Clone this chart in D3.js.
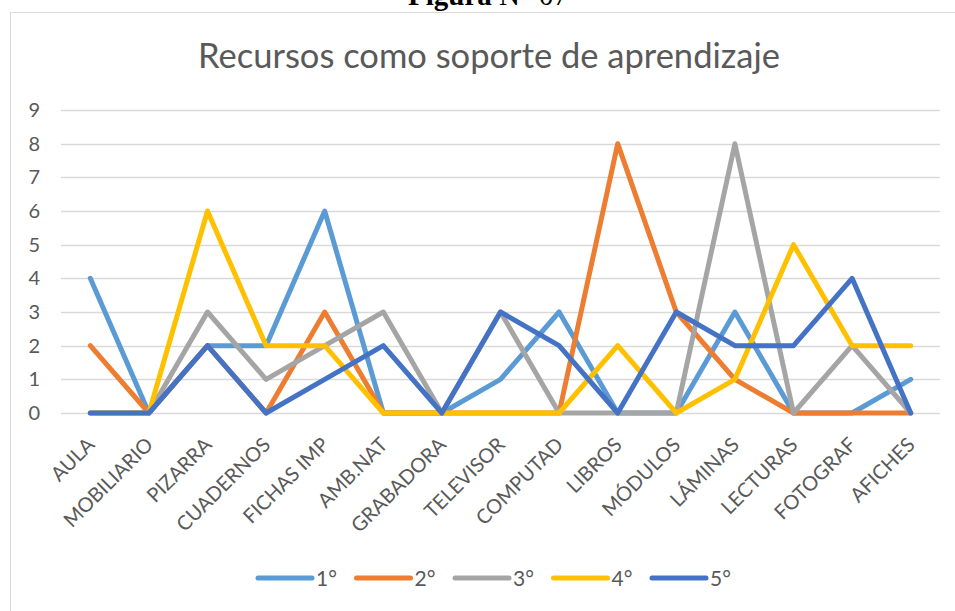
<!DOCTYPE html>
<html>
<head>
<meta charset="utf-8">
<script src="https://cdn.jsdelivr.net/npm/d3@7/dist/d3.min.js"></script>
<style>
  html, body { margin: 0; padding: 0; background: #fff; }
  svg { display: block; }
</style>
</head>
<body>
<script>
// categorias del eje x
const categorias = ["AULA", "MOBILIARIO", "PIZARRA", "CUADERNOS", "FICHAS IMP", "AMB.NAT",
  "GRABADORA", "TELEVISOR", "COMPUTAD", "LIBROS", "MÓDULOS", "LÁMINAS", "LECTURAS",
  "FOTOGRAF", "AFICHES"];

// valores por grado
const grado1 = [4, 0, 2, 2, 6, 0, 0, 1, 3, 0, 0, 3, 0, 0, 1];
const grado2 = [2, 0, 2, 0, 3, 0, 0, 0, 0, 8, 3, 1, 0, 0, 0];
const grado3 = [0, 0, 3, 1, 2, 3, 0, 3, 0, 0, 0, 8, 0, 2, 0];
const grado4 = [0, 0, 6, 2, 2, 0, 0, 0, 0, 2, 0, 1, 5, 2, 2];
const grado5 = [0, 0, 2, 0, 1, 2, 0, 3, 2, 0, 3, 2, 2, 4, 0];

const nombresSeries = ["1°", "2°", "3°", "4°", "5°"];
const colores = ["#5B9BD5", "#ED7D31", "#A5A5A5", "#FFC000", "#4472C4"];
const ticksY = [0, 1, 2, 3, 4, 5, 6, 7, 8, 9];

const series = [grado1, grado2, grado3, grado4, grado5].map((v, i) => ({
  nombre: nombresSeries[i], color: colores[i], valores: v
}));

const ancho = 955, alto = 611;
const svg = d3.select("body").append("svg")
  .attr("width", ancho).attr("height", alto)
  .attr("xmlns", "http://www.w3.org/2000/svg");

const fuente = "Lato, 'Open Sans', sans-serif";
const gris = "#595959";

// texto de la figura, cortado arriba como en la pagina original
svg.append("text")
  .attr("x", 488).attr("y", 5)
  .attr("text-anchor", "middle")
  .attr("font-family", "'Liberation Serif', 'Times New Roman', serif")
  .attr("font-size", 29)
  .attr("fill", "#000")
  .html('<tspan font-weight="bold">Figura</tspan> N° 07');

// marco del grafico
svg.append("rect")
  .attr("x", 10.5).attr("y", 12.5)
  .attr("width", 1000).attr("height", 700)
  .attr("fill", "none").attr("stroke", "#d9d9d9").attr("stroke-width", 1);

// titulo
svg.append("text")
  .attr("x", 489).attr("y", 68)
  .attr("text-anchor", "middle")
  .attr("font-family", fuente)
  .attr("font-size", 34.5)
  .attr("fill", gris)
  .text("Recursos como soporte de aprendizaje");

const x = d3.scalePoint().domain(categorias).range([61, 940]).padding(0.5);
const y = d3.scaleLinear().domain([0, 9]).range([413, 110]);

// lineas de la grilla
svg.append("g").selectAll("line")
  .data(ticksY)
  .join("line")
  .attr("x1", 61).attr("x2", 940)
  .attr("y1", d => Math.round(y(d)) + 0.5).attr("y2", d => Math.round(y(d)) + 0.5)
  .attr("stroke", "#d9d9d9").attr("stroke-width", 1.3);

// eje y
const ejeY = svg.append("g")
  .attr("transform", "translate(40,0)")
  .call(d3.axisLeft(y).tickValues(ticksY).tickSize(0).tickPadding(0));
ejeY.select(".domain").remove();
ejeY.selectAll("text")
  .attr("x", 0)
  .attr("text-anchor", "end")
  .attr("font-family", fuente)
  .attr("font-size", 20)
  .attr("fill", gris);

// eje x con etiquetas inclinadas
const ejeX = svg.append("g")
  .attr("transform", "translate(0,413)")
  .call(d3.axisBottom(x).tickSize(0).tickPadding(0));
ejeX.select(".domain").remove();
ejeX.selectAll("text")
  .attr("y", 0).attr("dy", 0)
  .attr("text-anchor", "end")
  .attr("transform", "translate(5,33) rotate(-45)")
  .attr("font-family", fuente)
  .attr("font-size", 20)
  .attr("fill", gris);

// series
const linea = d3.line()
  .x((d, i) => x(categorias[i]))
  .y(d => y(d));

svg.append("g").selectAll("path")
  .data(series)
  .join("path")
  .attr("d", d => linea(d.valores))
  .attr("fill", "none")
  .attr("stroke", d => d.color)
  .attr("stroke-width", 5)
  .attr("stroke-linejoin", "round")
  .attr("stroke-linecap", "round");

// leyenda
const leyenda = svg.append("g").attr("transform", "translate(258,578)");
const item = leyenda.selectAll("g")
  .data(series)
  .join("g")
  .attr("transform", (d, i) => `translate(${i * 98.5},0)`);
item.append("line")
  .attr("x1", 0).attr("x2", 54)
  .attr("stroke", d => d.color)
  .attr("stroke-width", 5)
  .attr("stroke-linecap", "round");
item.append("text")
  .attr("x", 58).attr("y", 7.5)
  .attr("font-family", fuente)
  .attr("font-size", 21)
  .attr("fill", gris)
  .text(d => d.nombre);
</script>
</body>
</html>
